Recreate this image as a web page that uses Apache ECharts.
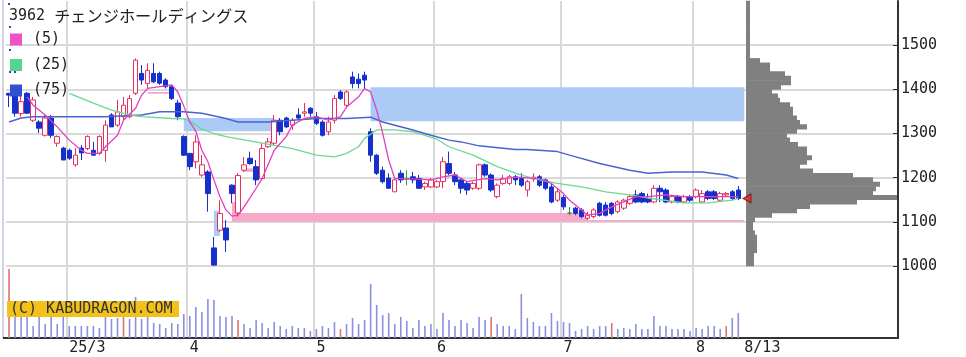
<!DOCTYPE html>
<html><head><meta charset="utf-8">
<script src="https://cdn.jsdelivr.net/npm/echarts@6/dist/echarts.min.js"></script>
<style>html,body{margin:0;padding:0;background:#fff}#c{width:966px;height:357px}</style>
</head><body><div id="c"></div>
<script>
const dates = [
'2025-02-14','2025-02-17','2025-02-18','2025-02-19','2025-02-20','2025-02-21','2025-02-25','2025-02-26','2025-02-27','2025-02-28',
'2025-03-03','2025-03-04','2025-03-05','2025-03-06','2025-03-07','2025-03-10','2025-03-11','2025-03-12','2025-03-13','2025-03-14',
'2025-03-17','2025-03-18','2025-03-19','2025-03-21','2025-03-24','2025-03-25','2025-03-26','2025-03-27','2025-03-28','2025-03-31',
'2025-04-01','2025-04-02','2025-04-03','2025-04-04','2025-04-07','2025-04-08','2025-04-09','2025-04-10','2025-04-11','2025-04-14',
'2025-04-15','2025-04-16','2025-04-17','2025-04-18','2025-04-21','2025-04-22','2025-04-23','2025-04-24','2025-04-25','2025-04-28',
'2025-04-30','2025-05-01','2025-05-02','2025-05-07','2025-05-08','2025-05-09','2025-05-12','2025-05-13','2025-05-14','2025-05-15',
'2025-05-16','2025-05-19','2025-05-20','2025-05-21','2025-05-22','2025-05-23','2025-05-26','2025-05-27','2025-05-28','2025-05-29',
'2025-05-30','2025-06-02','2025-06-03','2025-06-04','2025-06-05','2025-06-06','2025-06-09','2025-06-10','2025-06-11','2025-06-12',
'2025-06-13','2025-06-16','2025-06-17','2025-06-18','2025-06-19','2025-06-20','2025-06-23','2025-06-24','2025-06-25','2025-06-26',
'2025-06-27','2025-06-30','2025-07-01','2025-07-02','2025-07-03','2025-07-04','2025-07-07','2025-07-08','2025-07-09','2025-07-10',
'2025-07-11','2025-07-14','2025-07-15','2025-07-16','2025-07-17','2025-07-18','2025-07-22','2025-07-23','2025-07-24','2025-07-25',
'2025-07-28','2025-07-29','2025-07-30','2025-07-31','2025-08-01','2025-08-04','2025-08-05','2025-08-06','2025-08-07','2025-08-08',
'2025-08-12','2025-08-13'];

const open = [
1391,1391,1345,1391,1330,1326,1296,1335,1278,1267,
1262,1229,1267,1266,1262,1255,1262,1342,1319,1338,
1338,1391,1436,1413,1436,1436,1421,1406,1369,1293,
1255,1236,1206,1213,1041,1081,1086,1183,1120,1217,
1244,1225,1198,1270,1278,1330,1335,1319,1342,1346,
1357,1338,1326,1304,1330,1394,1364,1428,1423,1432,
1304,1251,1217,1199,1168,1210,1197,1202,1198,1179,
1179,1179,1191,1232,1206,1195,1187,1176,1176,1229,
1206,1157,1187,1187,1202,1198,1172,1197,1202,1195,
1179,1149,1155,1120,1131,1127,1108,1112,1142,1138,
1142,1123,1131,1142,1161,1164,1153,1145,1176,1172,
1145,1157,1145,1157,1157,1145,1168,1168,1149,1161,
1168,1172];
const close = [
1387,1346,1372,1346,1376,1312,1335,1296,1293,1240,
1244,1251,1256,1293,1251,1293,1319,1315,1349,1364,
1379,1466,1421,1443,1417,1414,1406,1379,1338,1251,
1225,1281,1229,1164,1002,1119,1059,1164,1205,1229,
1232,1195,1266,1281,1330,1304,1315,1330,1335,1349,
1346,1323,1296,1326,1379,1379,1394,1413,1413,1421,
1251,1210,1191,1176,1195,1195,1197,1195,1176,1187,
1195,1191,1236,1210,1191,1176,1172,1187,1229,1206,
1172,1183,1198,1202,1195,1183,1191,1201,1183,1176,
1145,1168,1134,1120,1119,1112,1115,1127,1115,1115,
1119,1145,1149,1157,1145,1145,1145,1176,1168,1145,
1157,1145,1157,1149,1172,1164,1153,1153,1164,1164,
1153,1153];
const high = [
1392,1392,1391,1394,1383,1330,1342,1342,1296,1270,
1266,1267,1274,1296,1281,1296,1330,1346,1376,1383,
1387,1470,1455,1459,1459,1440,1425,1410,1376,1296,
1256,1296,1251,1217,1066,1149,1104,1185,1210,1247,
1259,1240,1278,1290,1342,1335,1338,1335,1357,1369,
1360,1349,1330,1338,1387,1398,1398,1440,1436,1440,
1312,1253,1225,1210,1198,1217,1217,1213,1206,1191,
1199,1195,1247,1259,1213,1199,1191,1191,1232,1232,
1210,1187,1206,1206,1206,1210,1195,1210,1206,1198,
1187,1176,1161,1134,1134,1131,1123,1131,1145,1145,
1145,1149,1153,1161,1172,1168,1164,1183,1183,1176,
1161,1161,1161,1161,1176,1172,1172,1172,1168,1168,
1172,1181];
const low = [
1360,1338,1338,1344,1326,1301,1293,1290,1270,1240,
1240,1225,1240,1262,1251,1251,1236,1315,1315,1330,
1334,1387,1410,1402,1414,1410,1402,1376,1330,1249,
1217,1221,1202,1123,1001,1077,1032,1142,1112,1213,
1229,1183,1195,1267,1274,1296,1312,1308,1330,1338,
1338,1319,1293,1296,1323,1376,1357,1402,1402,1402,
1236,1206,1187,1176,1168,1188,1183,1187,1176,1172,
1176,1176,1176,1206,1183,1164,1161,1172,1172,1202,
1168,1153,1183,1183,1183,1179,1157,1191,1179,1172,
1142,1145,1127,1115,1115,1108,1104,1108,1112,1112,
1115,1119,1127,1138,1142,1142,1142,1142,1145,1142,
1142,1142,1142,1145,1153,1142,1149,1149,1145,1157,
1149,1149];

const volume = [
69,26,26,28,12,22,14,22,14,24,
12,12,12,12,12,10,25,19,20,22,
19,41,19,24,15,14,10,15,14,24,
22,31,26,39,38,22,21,22,18,14,
10,18,15,10,16,12,9,12,10,10,
7,9,12,10,16,9,14,20,14,18,
54,33,23,25,14,21,17,10,18,12,
14,9,25,18,12,18,15,10,21,18,
21,14,12,12,9,44,20,16,12,12,
25,17,16,15,7,9,12,9,12,12,
15,9,10,9,14,9,9,22,12,12,
9,9,9,7,10,9,12,12,9,12,
20,25];
const volumeRedDays = [0,19,38,55,80,100,119];

const ma5 = [[3,1383],[4,1364],[6,1342],[8,1315],[10,1285],[12,1262],[13,1255],[15,1255],[16,1270],[18,1296],[19,1330],[21,1357],[22,1387],[23,1402],[25,1406],[27,1410],[28,1394],[29,1362],[30,1326],[31,1305],[32,1262],[33,1236],[34,1195],[35,1157],[36,1127],[37,1113],[38,1115],[39,1134],[40,1155],[41,1176],[42,1198],[43,1230],[44,1262],[46,1293],[47,1319],[49,1334],[51,1338],[53,1330],[55,1338],[56,1360],[58,1383],[59,1402],[60,1394],[61,1353],[62,1301],[63,1240],[64,1198],[66,1198],[70,1195],[72,1202],[74,1206],[76,1191],[79,1198],[81,1195],[84,1201],[88,1198],[90,1187],[92,1164],[93,1149],[95,1127],[96,1115],[98,1119],[100,1134],[102,1145],[104,1157],[106,1157],[109,1161],[112,1157],[115,1157],[118,1157],[121,1157]];
const ma25 = [[10,1391],[14,1369],[17,1353],[20,1342],[22,1338],[27,1334],[29,1333],[30,1328],[32,1310],[34,1300],[36,1293],[42,1278],[47,1266],[51,1251],[54,1247],[56,1255],[58,1270],[59,1289],[61,1308],[64,1308],[67,1304],[71,1287],[73,1270],[77,1251],[81,1225],[85,1206],[88,1195],[91,1187],[95,1179],[99,1168],[103,1161],[106,1154],[112,1143],[116,1143],[120,1149],[121,1153]];
const ma75 = [[0,1326],[2,1335],[4,1338],[10,1338],[16,1338],[22,1342],[25,1349],[29,1349],[32,1346],[36,1334],[38,1326],[43,1326],[47,1330],[51,1334],[56,1334],[60,1337],[62,1326],[67,1308],[70,1296],[73,1285],[75,1281],[78,1272],[84,1264],[86,1264],[91,1259],[93,1251],[98,1232],[103,1217],[106,1210],[110,1213],[115,1213],[119,1206],[121,1198]];

// price gaps: [startIndex, endIndex, upperPrice, lowerPrice]
const gapsBlue = [[29,44,1335,1305],[34,35,1125,1068],[60,122,1405,1328]];
const gapsPink = [[23,27,1394,1390],[37,38,1145,1115],[37,96,1120,1100],[96,122,1104,1100],[39,41,1221,1213]];

// price-volume profile, 10-yen bins from 1000 upward
const profileStart = 1000;
const profileStep = 10;
const profile = [
8,8,8,11,11,11,11,9,7,7,
9,26,51,64,111,151,127,130,134,127,
107,67,54,61,66,61,61,52,44,41,
51,61,54,51,47,47,44,34,32,26,
35,45,45,39,24,24,14,4,4,4,
4,4,4,4,4,4,4,4,4,4];

const monthLabels = ['25/3','4','5','6','7','8'];
const lastLabel = '8/13';
const titleCode = '3962';
const titleName = 'チェンジホールディングス';

const padCount = 25;
const cats = dates.concat([lastLabel]);
for (let k = 0; k < padCount; k++) cats.push('pad' + k);
const monthStarts = [];
dates.forEach((d, i) => { if (i > 0 && d.slice(5, 7) !== dates[i - 1].slice(5, 7)) monthStarts.push(i); });
const labelMap = {};
monthStarts.forEach((idx, k) => labelMap[idx] = monthLabels[k]);
labelMap[dates.length] = lastLabel;

const MONO = "'DejaVu Sans Mono', monospace";
const gridColor = '#d9d9d9';

function areas(list, color) {
  return list.map(g => [{coord: [cats[g[0]], g[2]], itemStyle: {color: color}}, {coord: [cats[g[1]], g[3]]}]);
}

const chart = echarts.init(document.getElementById('c'), null, {renderer: 'canvas'});
chart.setOption({
  animation: false,
  backgroundColor: '#fff',
  title: {text: '{a|' + titleCode + ' }{b|' + titleName + '}', left: 9, top: 8, padding: 0,
    textStyle: {fontFamily: MONO, fontSize: 15, fontWeight: 'normal', color: '#222',
      rich: {a: {fontFamily: MONO, fontSize: 15, color: '#222'},
             b: {fontFamily: "'Noto Sans CJK JP'", fontSize: 16.2, color: '#222'}}}},
  legend: {orient: 'vertical', left: 10, top: 32, padding: 0, itemWidth: 12, itemHeight: 12, itemGap: 10.5,
    icon: 'rect', selectedMode: false,
    textStyle: {fontFamily: MONO, fontSize: 15, color: '#222', lineHeight: 12, padding: [0, 0, 0, 6]},
    data: [{name: '(5)', itemStyle: {color: '#f050c8'}}, {name: '(25)', itemStyle: {color: '#55d48a'}}, {name: '(75)', itemStyle: {color: '#3050d0'}}]},
  grid: [
    {left: 6, right: 68, top: 1, bottom: 91, outerBoundsMode: 'none', containLabel: false},
    {left: 6, right: 68, top: 266, bottom: 19, outerBoundsMode: 'none', containLabel: false},
    {left: 746, right: 68, top: 1, bottom: 91, outerBoundsMode: 'none', containLabel: false}
  ],
  xAxis: [
    {type: 'category', gridIndex: 0, data: cats, boundaryGap: true,
      axisLine: {show: false}, axisTick: {show: false}, axisLabel: {show: false},
      splitLine: {show: true, interval: (i) => monthStarts.includes(i), lineStyle: {color: gridColor, width: 2}}},
    {type: 'category', gridIndex: 1, data: cats, boundaryGap: true,
      axisLine: {show: true, lineStyle: {color: '#333', width: 2}}, axisTick: {show: false},
      axisLabel: {show: true, interval: (i) => labelMap[i] !== undefined, formatter: (v, i) => labelMap[i] || '',
        align: 'left', margin: 3, fontFamily: MONO, fontSize: 15, color: '#222'},
      splitLine: {show: true, interval: (i) => monthStarts.includes(i), lineStyle: {color: gridColor, width: 2}}},
    {type: 'value', gridIndex: 2, min: 0, max: 152, show: false}
  ],
  yAxis: [
    {type: 'value', gridIndex: 0, position: 'right', min: 1000, max: 1600, interval: 100, scale: true,
      axisLine: {show: true, lineStyle: {color: '#333', width: 2}},
      axisTick: {show: true, inside: true, length: 5, lineStyle: {color: '#333'}},
      axisLabel: {show: true, showMaxLabel: false, margin: 3, fontFamily: MONO, fontSize: 15, color: '#222',
        formatter: (v) => String(v)},
      splitLine: {show: true, showMaxLine: false, lineStyle: {color: gridColor, width: 2}}},
    {type: 'value', gridIndex: 1, position: 'right', min: 0, max: 72,
      axisLine: {show: true, lineStyle: {color: '#333', width: 2}}, axisTick: {show: false},
      axisLabel: {show: false}, splitLine: {show: false}},
    {type: 'value', gridIndex: 2, min: 1000, max: 1600, show: false}
  ],
  graphic: [
    {type: 'line', z: 100, shape: {x1: 3, y1: 0, x2: 3, y2: 338}, style: {stroke: '#a8a8d0', lineWidth: 1}},
    {type: 'line', z: 100, shape: {x1: 3, y1: 338, x2: 7, y2: 338}, style: {stroke: '#333', lineWidth: 2}},
    {type: 'rect', z: 100, shape: {x: 8, y: 3, width: 2, height: 2}, style: {fill: '#3344cc'}},
    {type: 'rect', z: 100, shape: {x: 9, y: 26, width: 2, height: 2}, style: {fill: '#3344cc'}},
    {type: 'rect', z: 100, shape: {x: 9, y: 49, width: 2, height: 2}, style: {fill: '#3344cc'}},
    {type: 'rect', z: 100, shape: {x: 9, y: 71, width: 2, height: 2}, style: {fill: '#3344cc'}},
    {type: 'rect', z: 100, shape: {x: 14, y: 71, width: 2, height: 2}, style: {fill: '#3344cc'}},
    {type: 'rect', z: 100, shape: {x: 7, y: 301, width: 172, height: 16}, style: {fill: '#f3c21a'}},
    {type: 'text', z: 101, x: 10, y: 309.5, style: {text: '(C) KABUDRAGON.COM', fontFamily: MONO, fontSize: 15,
      fill: '#333', verticalAlign: 'middle', align: 'left'}}
  ],
  series: [
    {name: 'gaps', type: 'line', xAxisIndex: 0, yAxisIndex: 0, data: [], z: 1, silent: true,
      markArea: {silent: true, z: 1, data: areas(gapsBlue, '#abcaf5').concat(areas(gapsPink, '#f6a9c9'))}},
    {name: 'price', type: 'candlestick', xAxisIndex: 0, yAxisIndex: 0, z: 3, barWidth: 5,
      data: dates.map((d, i) => [open[i], close[i], low[i], high[i]]),
      itemStyle: {color: '#ffffff', color0: '#1530cc', borderColor: '#e8305e', borderColor0: '#1530cc',
        borderColorDoji: '#2e9a3a', borderWidth: 1}},
    {name: '(75)', type: 'line', xAxisIndex: 0, yAxisIndex: 0, z: 4, data: ma75, showSymbol: false, smooth: false,
      itemStyle: {color: '#3050d0'}, lineStyle: {color: '#4a63d0', width: 1.5}},
    {name: '(25)', type: 'line', xAxisIndex: 0, yAxisIndex: 0, z: 4, data: ma25, showSymbol: false,
      itemStyle: {color: '#55d48a'}, lineStyle: {color: '#6cd890', width: 1.3}},
    {name: '(5)', type: 'line', xAxisIndex: 0, yAxisIndex: 0, z: 5, data: ma5, showSymbol: false,
      itemStyle: {color: '#f050c8'}, lineStyle: {color: '#e040c0', width: 1.3}},
    {name: 'volume', type: 'bar', xAxisIndex: 1, yAxisIndex: 1, barWidth: 1.6,
      data: volume.map((v, i) => ({value: v, itemStyle: {color: volumeRedDays.includes(i) ? '#e07272' : '#8c8fe0'}}))},
    {name: 'profile', type: 'custom', xAxisIndex: 2, yAxisIndex: 2, z: 6, silent: true,
      data: profile.map((v, k) => [v, profileStart + k * profileStep]),
      renderItem: function (params, api) {
        const v = api.value(0), lo = api.value(1);
        const p0 = api.coord([0, lo]);
        const p1 = api.coord([v, lo + profileStep]);
        return {type: 'rect', shape: {x: p0[0], y: p1[1] - 0.3, width: p1[0] - p0[0], height: p0[1] - p1[1] + 0.6},
          style: {fill: '#808080'}};
      }},
    {name: 'last', type: 'scatter', xAxisIndex: 2, yAxisIndex: 2, z: 10,
      data: [[1, close[close.length - 1]]], symbol: 'triangle', symbolRotate: 90, symbolSize: [9, 8],
      itemStyle: {color: '#e82424', borderColor: '#701010', borderWidth: 1}}
  ]
});
</script></body></html>
